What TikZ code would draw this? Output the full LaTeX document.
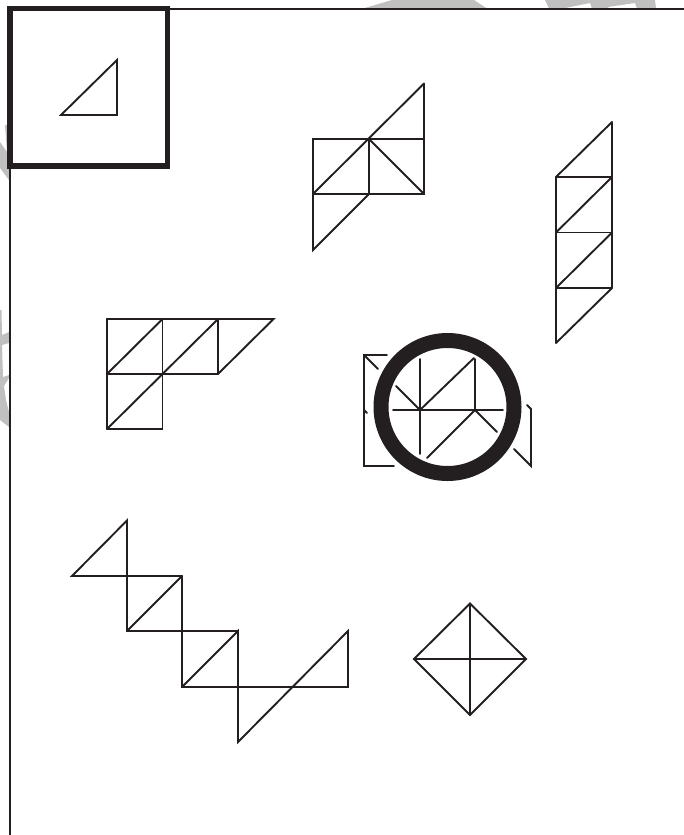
\documentclass[tikz,border=0pt]{standalone}
\definecolor{ink}{HTML}{231F20}
\definecolor{wm}{HTML}{C0C0C1}
\tikzset{
  fig/.style={draw=ink,line width=1.9pt,line cap=round,line join=miter},
  framel/.style={draw=ink,line width=2pt},
  wmark/.style={fill=wm,draw=none}
}
\begin{document}
\begin{tikzpicture}[x=1pt,y=-1pt]
\useasboundingbox (0,0) rectangle (684,835);
% watermark fragments
\fill[wmark] (363,8.5)--(392,0)--(474,0)--(487,8.5)--(432,8.5)--(463,1.5)--(464,8.5)--(432,8.5)--cycle;
\fill[wmark] (545,0)--(655,0)--(656,8.5)--(637,8.5)--(635,3)--(608,7)--(609,8.5)--(592,8.5)--(590,3)--(563,8.5)--(549,8.5)--cycle;
\fill[wmark] (5,125)--(8,125)--(9,180)--(0,168)--(0,142)--(7,152)--cycle;
\fill[wmark] (0,310)--(1.5,310)--(2,335)--(9,332)--(9,343)--(2,345)--(3,377)--(9,375)--(9,378)--(4,386)--(6,400)--(9,412)--(9,427)--(0,420)--cycle;
% page frame
\draw[framel] (168,9)--(684,9);
\draw[framel] (10,166)--(10,835);
% boxed triangle
\draw[draw=ink,line width=5.5pt,line join=miter] (10,8.7) rectangle (167.5,166);
\draw[fig] (61,115)--(117,115)--(117,60)--cycle;
% figure top middle
\draw[fig] (424,83.5)--(424,194)--(313,194)--(313,139)--(424,139);
\draw[fig] (424,83.5)--(313,194);
\draw[fig] (369,139)--(369,194);
\draw[fig] (369,139)--(424,194);
\draw[fig] (313,194)--(313,250)--(369,194);
% figure right column
\draw[fig] (612,122)--(612,288);
\draw[fig] (556,177)--(556,343);
\draw[fig] (556,177)--(612,177);
\draw[fig] (556,232.5)--(612,232.5);
\draw[fig] (556,288)--(612,288);
\draw[fig] (612,122)--(556,177);
\draw[fig] (612,177)--(556,232.5);
\draw[fig] (612,232.5)--(556,288);
\draw[fig] (612,288)--(556,343);
% figure L shape
\draw[fig] (107,429)--(107,319)--(273.5,319)--(218,374)--(107,374);
\draw[fig] (107,429)--(162.5,429)--(162.5,319);
\draw[fig] (218,319)--(218,374);
\draw[fig] (162.5,319)--(107,374);
\draw[fig] (218,319)--(162.5,374);
\draw[fig] (162.5,374)--(107,429);
% figure in circle
\draw[fig] (387,355)--(364,355)--(364,466)--(394,466);
\draw[fig] (364,355)--(378,369);
\draw[fig] (364,410)--(367,413);
\draw[fig] (393,410)--(503,410);
\draw[fig] (420,359)--(420,454);
\draw[fig] (475,359)--(475,410);
\draw[fig] (474,358)--(420,410);
\draw[fig] (396,386)--(420,410);
\draw[fig] (475,410)--(427,458);
\draw[fig] (475,410)--(497,432);
\draw[fig] (527,405)--(531,409)--(531,466)--(514,449);
\draw[draw=ink,line width=15pt] (447.5,407) circle[radius=66.5];
% figure zigzag
\draw[fig] (182,576)--(72,576)--(127,520.5)--(127,631)--(238,631);
\draw[fig] (182,576)--(127,631);
\draw[fig] (182,576)--(182,687)--(348,687)--(348,631)--(238,742)--(238,631)--(182,687);
% diamond
\draw[fig] (470,603.5)--(526,659)--(470,715)--(414,659)--cycle;
\draw[fig] (470,603.5)--(470,715);
\draw[fig] (414,659)--(526,659);
\end{tikzpicture}
\end{document}
